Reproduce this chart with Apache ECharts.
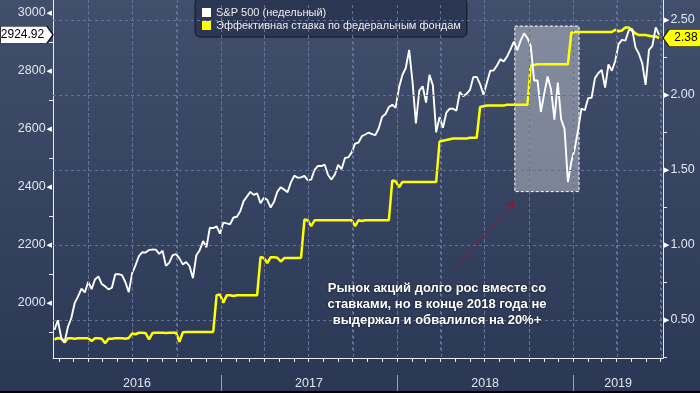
<!DOCTYPE html>
<html><head><meta charset="utf-8">
<script src="https://cdn.jsdelivr.net/npm/echarts@6/dist/echarts.min.js"></script>
<style>html,body{margin:0;padding:0;background:#000;}#c{width:700px;height:391px;}</style>
</head><body><div id="c"></div>
<script>
// ---------- data ----------
const firstWeek = [2016, 0, 22];          // first weekly observation (Friday)
const seriesNames = ['S&P 500 (недельный)', 'Эффективная ставка по федеральным фондам'];

const spx2016 = [1906.90,1940.24,1880.05,1864.78,1917.78,1948.05,1999.99,2022.19,2049.58,2035.94,
  2072.78,2047.60,2080.73,2091.58,2065.30,2057.14,2046.61,2052.32,2099.06,2099.13,
  2096.07,2071.22,2037.41,2102.95,2129.90,2161.74,2175.03,2173.60,2182.87,2184.05,
  2183.87,2169.04,2179.98,2127.81,2139.16,2164.69,2168.27,2153.74,2132.98,2141.16,
  2126.41,2085.18,2164.45,2181.90,2213.35,2191.95,2259.53,2258.07,2263.79,2238.83];
const spx2017 = [2276.98,2274.64,2271.31,2294.69,2297.42,2316.10,2351.16,2367.34,2383.12,2372.60,
  2378.25,2343.98,2362.72,2355.54,2328.95,2348.69,2384.20,2399.29,2390.90,2381.73,
  2415.82,2439.07,2431.77,2433.15,2438.30,2423.41,2425.18,2459.27,2472.54,2472.10,
  2476.83,2441.32,2425.55,2443.05,2476.55,2461.43,2500.23,2502.22,2519.36,2549.33,
  2553.17,2575.21,2581.07,2587.84,2582.30,2578.85,2602.42,2642.22,2651.50,2675.81,
  2683.34,2673.61];
const spx2018 = [2743.15,2786.24,2810.30,2872.87,2762.13,2619.55,2732.22,2747.30,2691.25,2786.57,
  2752.01,2588.26,2640.87,2604.47,2656.30,2670.14,2669.91,2663.42,2727.72,2712.97,
  2721.33,2734.62,2779.03,2779.66,2754.88,2718.37,2759.82,2801.31,2801.83,2818.82,
  2840.35,2833.28,2850.13,2874.69,2901.52,2871.68,2904.98,2929.67,2913.98,2885.57,
  2767.13,2767.78,2658.69,2723.06,2781.01,2736.27,2632.56,2760.17,2633.08,2599.95,
  2416.62,2485.74];
const spx2019 = [2531.94,2596.26,2670.71,2664.76,2706.53,2707.88,2775.60,2792.67,2803.69,2743.07,
  2822.48,2800.71,2834.40,2892.74,2907.41,2905.03,2939.88,2945.64,2881.40,2859.53,
  2826.06,2752.06,2873.34,2886.98,2950.46,2924.92];

const rate2016 = [0.37,0.38,0.375,0.35,0.378,0.378,0.375,0.378,0.378,0.378,
  0.378,0.36,0.378,0.378,0.375,0.345,0.375,0.375,0.378,0.378,
  0.378,0.375,0.38,0.41,0.405,0.415,0.415,0.412,0.37,0.413,
  0.415,0.415,0.415,0.413,0.415,0.415,0.415,0.355,0.418,0.42,
  0.42,0.42,0.42,0.42,0.42,0.42,0.42,0.42,0.665,0.67];
const rate2017 = [0.615,0.665,0.665,0.66,0.665,0.665,0.665,0.665,0.665,0.665,
  0.665,0.92,0.913,0.88,0.918,0.918,0.915,0.89,0.913,0.913,
  0.913,0.913,0.913,0.915,1.17,1.165,1.125,1.165,1.165,1.165,
  1.165,1.165,1.165,1.165,1.165,1.165,1.165,1.165,1.165,1.125,
  1.165,1.16,1.165,1.165,1.165,1.165,1.165,1.165,1.165,1.165,
  1.43,1.425];
const rate2018 = [1.385,1.42,1.42,1.42,1.42,1.42,1.42,1.42,1.42,1.42,
  1.42,1.42,1.69,1.695,1.70,1.705,1.71,1.71,1.71,1.71,
  1.71,1.715,1.715,1.715,1.92,1.925,1.93,1.93,1.93,1.93,
  1.93,1.93,1.935,1.935,1.935,1.935,1.935,1.935,1.935,2.195,
  2.20,2.205,2.205,2.205,2.205,2.205,2.205,2.205,2.205,2.205,
  2.205,2.415];
const rate2019 = [2.42,2.42,2.42,2.42,2.42,2.42,2.42,2.42,2.42,2.42,
  2.42,2.42,2.435,2.425,2.43,2.45,2.45,2.43,2.41,2.40,
  2.40,2.40,2.395,2.39,2.39,2.38];

const leftLabelValues = [2000, 2200, 2400, 2600, 2800, 3000];
const leftMinorValues = [1900, 2100, 2300, 2500, 2700, 2900];
const rightLabelValues = [0.5, 1.0, 1.5, 2.0, 2.5];
const rightMinorValues = [0.25, 0.75, 1.25, 1.75, 2.25];
const yearLabels = ['2016', '2017', '2018', '2019'];
const highlightBox = { from: [2018, 8, 2], to: [2019, 0, 13], top: 2955, bottom: 2384 };
const arrowFrom = { date: [2018, 3, 29], value: 2117 };
const arrowTo = { date: [2018, 8, 2], value: 2348 };
const annotationLines = ['Рынок акций долго рос вместе со', 'ставками, но в конце 2018 года не', 'выдержал и обвалился на 20%+'];

// ---------- build ----------
const U = a => Date.UTC(a[0], a[1], a[2]);
const spx = spx2016.concat(spx2017, spx2018, spx2019);
const rate = rate2016.concat(rate2017, rate2018, rate2019);
const t0 = U(firstWeek);
const DAY = 86400000;
const dates = spx.map((_, i) => t0 + i * 7 * DAY);
const xMin = Date.UTC(2016, 0, 19);
const xMax = Date.UTC(2019, 6, 6);
const rMin = 0.2467, rMax = 2.6333;

const monthTicks = [], quarterTicks = [];
for (let y = 2016; y <= 2019; y++) for (let m = 0; m < 12; m++) {
  const t = Date.UTC(y, m, 1);
  if (t >= xMin && t <= xMax) { monthTicks.push(t); if (m % 3 === 0) quarterTicks.push(t); }
}
const yearBounds = [], yearCenters = [];
yearLabels.forEach(ys => {
  const y = +ys;
  const a = Math.max(xMin, Date.UTC(y, 0, 1)), b = Math.min(xMax, Date.UTC(y + 1, 0, 1));
  yearCenters.push((a + b) / 2);
  if (Date.UTC(y, 0, 1) > xMin) yearBounds.push(Date.UTC(y, 0, 1));
});

const FONT = '"Liberation Sans", Arial, sans-serif';
const AX = '#e9ecf1';
const GRID = { type: [3, 3], color: '#62729a', width: 1 };

// grid lines: horizontal at the right-axis label values, vertical at quarter starts
const gridLines = rightLabelValues.map(v => [{ coord: [xMin, v] }, { coord: [xMax, v] }])
  .concat(quarterTicks.map(t => [{ coord: [t, 0.3] }, { coord: [t, 2.6] }, {}]));

const chart = echarts.init(document.getElementById('c'), null, { renderer: 'canvas' });
chart.setOption({
  animation: false,
  backgroundColor: new echarts.graphic.LinearGradient(0, 0, 0, 1, [
    { offset: 0, color: '#414e6c' }, { offset: 1, color: '#2a3755' }]),
  textStyle: { fontFamily: FONT },
  grid: { left: 53, right: 37, top: 0, bottom: 33, containLabel: false },
  legend: {
    data: seriesNames, orient: 'vertical', left: 195, top: -2,
    icon: 'rect', itemWidth: 9, itemHeight: 9, itemGap: 2,
    padding: [9, 6, 6, 7],
    backgroundColor: '#2c3853', borderColor: '#0f1628', borderWidth: 1, borderRadius: 5,
    textStyle: { color: '#ececec', fontSize: 11, lineHeight: 11, fontFamily: FONT },
    selectedMode: false
  },
  xAxis: [
    { type: 'value', min: xMin, max: xMax, position: 'bottom',
      axisLine: { show: true, lineStyle: { color: AX, width: 1 } },
      axisTick: { show: true, customValues: monthTicks, length: 4, lineStyle: { color: AX } },
      axisLabel: { show: false }, splitLine: { show: false } },
    { type: 'value', min: xMin, max: xMax, position: 'bottom', offset: 17,
      axisLine: { show: false },
      axisTick: { show: true, customValues: yearBounds, length: 18, lineStyle: { color: '#9aa3b6' } },
      axisLabel: { show: true, customValues: yearCenters, margin: 2, color: '#e1e5ec', fontSize: 12.5,
        fontFamily: FONT, formatter: v => String(new Date(v).getUTCFullYear()) },
      splitLine: { show: false } }
  ],
  yAxis: [
    { type: 'value', position: 'left', min: 1810, max: 3045,
      axisLine: { show: true, lineStyle: { color: AX } },
      axisTick: { show: true, customValues: leftMinorValues, length: 4, lineStyle: { color: AX } },
      axisLabel: { show: true, customValues: leftLabelValues, margin: 1,
        formatter: v => '{v|' + v + '}{t|◀}',
        rich: { v: { color: '#e1e5ec', fontSize: 12.5, fontFamily: FONT },
                t: { color: '#ffffff', fontSize: 7, fontFamily: 'DejaVu Sans', padding: [0, 0, 0, 1] } } },
      splitLine: { show: false } },
    { type: 'value', position: 'right', min: rMin, max: rMax,
      axisLine: { show: true, lineStyle: { color: AX } },
      axisTick: { show: true, customValues: rightMinorValues, length: 4, lineStyle: { color: AX } },
      axisLabel: { show: true, customValues: rightLabelValues, margin: 1,
        formatter: v => '{t|▶}{v|' + v.toFixed(2) + '}',
        rich: { v: { color: '#e1e5ec', fontSize: 12.5, fontFamily: FONT },
                t: { color: '#ffffff', fontSize: 7, fontFamily: 'DejaVu Sans', padding: [0, 1, 0, 0] } } },
      splitLine: { show: false } }
  ],
  series: [
    { name: 'grid', type: 'line', xAxisIndex: 0, yAxisIndex: 1, data: [[xMin, null]], z: 1, silent: true,
      clip: false,
      markLine: {
        silent: true, symbol: 'none', label: { show: false }, animation: false,
        lineStyle: GRID, emphasis: { disabled: true },
        data: gridLines
      } },
    { name: seriesNames[1], type: 'line', xAxisIndex: 0, yAxisIndex: 1,
      data: dates.map((d, i) => [d, rate[i]]),
      symbol: 'none', lineStyle: { color: '#ffff00', width: 2.5 }, itemStyle: { color: '#ffff00' },
      z: 3, silent: true,
      markPoint: {
        symbol: 'path://M6,0L40,0L40,17L6,17L0,8.5Z', symbolSize: [40, 17], symbolOffset: [20, 0],
        itemStyle: { color: '#ffff00', borderColor: '#1a1a1a', borderWidth: 1 },
        label: { show: true, position: 'inside', color: '#000', fontSize: 12, fontFamily: FONT, offset: [3, 0],
          formatter: p => p.value.toFixed(2) },
        data: [{ coord: [xMax, rate[rate.length - 1]], value: rate[rate.length - 1] }]
      } },
    { name: seriesNames[0], type: 'line', xAxisIndex: 0, yAxisIndex: 0,
      data: dates.map((d, i) => [d, spx[i]]),
      symbol: 'none', lineStyle: { color: '#ffffff', width: 1.9 }, itemStyle: { color: '#ffffff' },
      z: 4, silent: true,
      markArea: {
        silent: true,
        itemStyle: { color: 'rgba(255,255,255,0.35)', borderColor: '#ffffff', borderWidth: 1, borderType: [3, 2] },
        data: [[{ coord: [U(highlightBox.from), highlightBox.top] }, { coord: [U(highlightBox.to), highlightBox.bottom] }]]
      },
      markLine: {
        silent: true, symbol: ['none', 'arrow'], symbolSize: 7,
        lineStyle: { color: '#8a1a30', width: 1.5, type: [2, 2] },
        label: { show: false },
        data: [[{ coord: [U(arrowFrom.date), arrowFrom.value] }, { coord: [U(arrowTo.date), arrowTo.value] }]]
      },
      markPoint: {
        symbol: 'path://M0,0L46,0L52,8.5L46,17L0,17Z', symbolSize: [53, 17], symbolOffset: [-26.5, 0],
        itemStyle: { color: '#ffffff', borderColor: '#1a1a1a', borderWidth: 1 },
        label: { show: true, position: 'inside', color: '#000', fontSize: 12, fontFamily: FONT, offset: [-4, 0],
          formatter: p => p.value.toFixed(2) },
        data: [{ coord: [xMin, spx[spx.length - 1]], value: spx[spx.length - 1] }]
      } }
  ],
  graphic: [{
    type: 'text', x: 437, y: 280, silent: true, z: 10,
    style: {
      text: annotationLines.join('\n'), fill: '#ffffff', font: 'bold 13px "Liberation Sans", Arial, sans-serif',
      textAlign: 'center', textVerticalAlign: 'top', align: 'center', verticalAlign: 'top', lineHeight: 16,
      textShadowColor: 'rgba(0,0,0,0.7)', textShadowBlur: 2
    }
  }]
});
// vertical grid lines drawn with the grid's own converter from the quarter-start dates
chart.setOption({
  graphic: [{ type: 'text', x: 437, y: 280, silent: true, z: 10,
    style: { text: annotationLines.join('\n'), fill: '#ffffff', font: 'bold 13px "Liberation Sans", Arial, sans-serif',
      textAlign: 'center', textVerticalAlign: 'top', align: 'center', verticalAlign: 'top', lineHeight: 16,
      textShadowColor: 'rgba(0,0,0,0.7)', textShadowBlur: 2 } }].concat(
    quarterTicks.map(t => {
      const x = Math.round(chart.convertToPixel({ xAxisIndex: 0 }, t)) + 0.5;
      const y0 = chart.convertToPixel({ yAxisIndex: 1 }, rMax);
      const y1 = chart.convertToPixel({ yAxisIndex: 1 }, rMin);
      return { type: 'line', silent: true, z: 0, zlevel: 0,
        shape: { x1: x, y1: y0, x2: x, y2: y1 },
        style: { stroke: GRID.color, lineWidth: 1, lineDash: [3, 3] } };
    }))
});
</script></body></html>
